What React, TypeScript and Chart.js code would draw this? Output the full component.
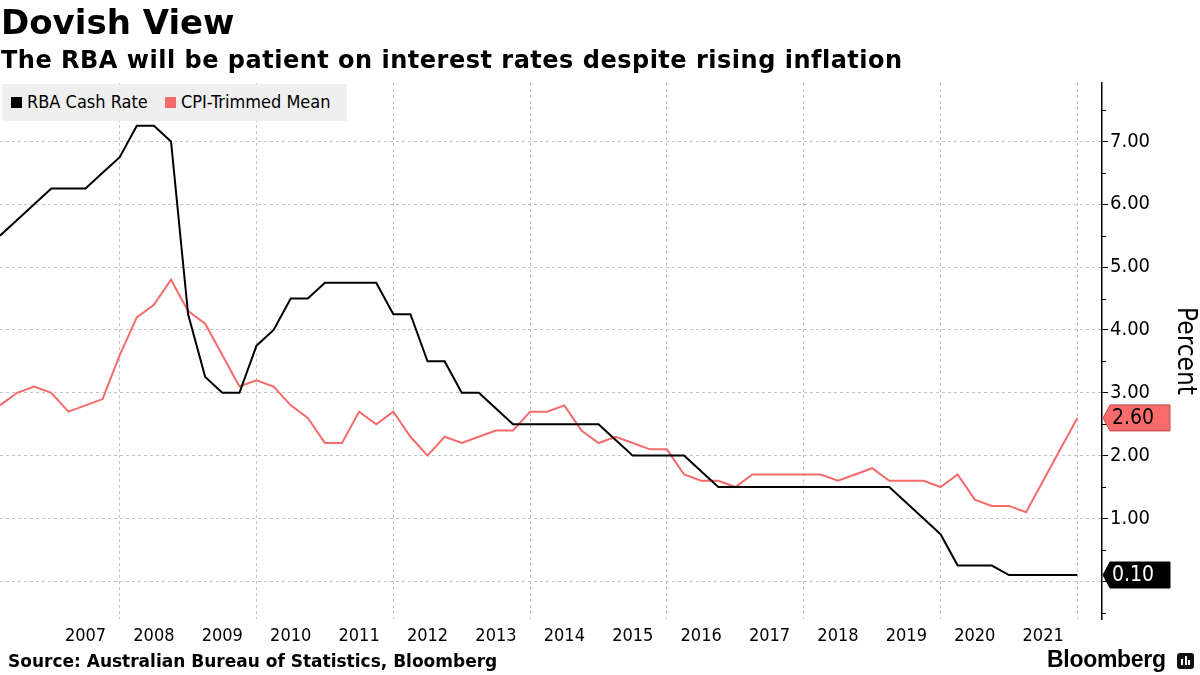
import React, { useEffect, useRef } from "react";
import { Chart, registerables } from "chart.js";

Chart.register(...registerables);

// ---- Data (quarter ends) ----
const quarters = [
  "2006-03", "2006-06", "2006-09", "2006-12",
  "2007-03", "2007-06", "2007-09", "2007-12",
  "2008-03", "2008-06", "2008-09", "2008-12",
  "2009-03", "2009-06", "2009-09", "2009-12",
  "2010-03", "2010-06", "2010-09", "2010-12",
  "2011-03", "2011-06", "2011-09", "2011-12",
  "2012-03", "2012-06", "2012-09", "2012-12",
  "2013-03", "2013-06", "2013-09", "2013-12",
  "2014-03", "2014-06", "2014-09", "2014-12",
  "2015-03", "2015-06", "2015-09", "2015-12",
  "2016-03", "2016-06", "2016-09", "2016-12",
  "2017-03", "2017-06", "2017-09", "2017-12",
  "2018-03", "2018-06", "2018-09", "2018-12",
  "2019-03", "2019-06", "2019-09", "2019-12",
  "2020-03", "2020-06", "2020-09", "2020-12",
  "2021-03", "2021-06", "2021-09", "2021-12",
];

const rbaCashRate = [
  5.5, 5.75, 6.0, 6.25,
  6.25, 6.25, 6.5, 6.75,
  7.25, 7.25, 7.0, 4.25,
  3.25, 3.0, 3.0, 3.75,
  4.0, 4.5, 4.5, 4.75,
  4.75, 4.75, 4.75, 4.25,
  4.25, 3.5, 3.5, 3.0,
  3.0, 2.75, 2.5, 2.5,
  2.5, 2.5, 2.5, 2.5,
  2.25, 2.0, 2.0, 2.0,
  2.0, 1.75, 1.5, 1.5,
  1.5, 1.5, 1.5, 1.5,
  1.5, 1.5, 1.5, 1.5,
  1.5, 1.25, 1.0, 0.75,
  0.25, 0.25, 0.25, 0.1,
  0.1, 0.1, 0.1, 0.1,
];

const cpiTrimmedMean = [
  2.8, 3.0, 3.1, 3.0,
  2.7, 2.8, 2.9, 3.6,
  4.2, 4.4, 4.8, 4.3,
  4.1, 3.6, 3.1, 3.2,
  3.1, 2.8, 2.6, 2.2,
  2.2, 2.7, 2.5, 2.7,
  2.3, 2.0, 2.3, 2.2,
  2.3, 2.4, 2.4, 2.7,
  2.7, 2.8, 2.4, 2.2,
  2.3, 2.2, 2.1, 2.1,
  1.7, 1.6, 1.6, 1.5,
  1.7, 1.7, 1.7, 1.7,
  1.7, 1.6, 1.7, 1.8,
  1.6, 1.6, 1.6, 1.5,
  1.7, 1.3, 1.2, 1.2,
  1.1, 1.6, 2.1, 2.6,
];

const yearLabels = [
  "2007", "2008", "2009", "2010", "2011", "2012", "2013", "2014",
  "2015", "2016", "2017", "2018", "2019", "2020", "2021",
];
const gridYears = [2008, 2010, 2012, 2014, 2016, 2018, 2020, 2022];
const yMajorTicks = [0, 1, 2, 3, 4, 5, 6, 7];
const yMinorTicks = [-0.5, 0.5, 1.5, 2.5, 3.5, 4.5, 5.5, 6.5, 7.5];

const seriesNames = ["RBA Cash Rate", "CPI-Trimmed Mean"];
const seriesColors = ["#000000", "#f46b6b"];
const boxFill = ["#000000", "#fa6b6b"];
const boxText = ["#ffffff", "#000000"];

const FONT = "'DejaVu Sans Condensed', 'Liberation Sans', 'DejaVu Sans', sans-serif";
const BOLD = "'DejaVu Sans', 'Liberation Sans', sans-serif";

const toYear = (q: string) => {
  const [y, m] = q.split("-").map(Number);
  return y + m / 12;
};

const endLabelPlugin = {
  id: "endLabels",
  afterDraw(chart: any) {
    const ctx = chart.ctx as CanvasRenderingContext2D;
    const ys = chart.scales.y;
    const ax = ys.left;
    ctx.save();
    // minor ticks
    ctx.strokeStyle = "#000";
    ctx.lineWidth = 1;
    yMinorTicks.forEach((v) => {
      const py = Math.round(ys.getPixelForValue(v)) + 0.5;
      ctx.beginPath();
      ctx.moveTo(ax, py);
      ctx.lineTo(ax + 4, py);
      ctx.stroke();
    });
    // last-value boxes
    chart.data.datasets.forEach((ds: any, i: number) => {
      const last = ds.data[ds.data.length - 1];
      const py = ys.getPixelForValue(last.y);
      const h = 26;
      const x0 = ax + 1;
      const x1 = ax + 8;
      const x2 = ax + 68;
      ctx.beginPath();
      ctx.moveTo(x0, py);
      ctx.lineTo(x1, py - h / 2);
      ctx.lineTo(x2, py - h / 2);
      ctx.lineTo(x2, py + h / 2);
      ctx.lineTo(x1, py + h / 2);
      ctx.closePath();
      ctx.fillStyle = boxFill[i];
      ctx.fill();
      ctx.strokeStyle = i === 1 ? "#c24a4a" : "#000";
      ctx.lineWidth = 1;
      ctx.stroke();
      ctx.fillStyle = boxText[i];
      ctx.font = `21px ${FONT}`;
      ctx.textBaseline = "middle";
      ctx.textAlign = "left";
      ctx.fillText(last.y.toFixed(2), ax + 10, py + 1);
    });
    ctx.restore();
  },
};

export default function App() {
  const ref = useRef<HTMLCanvasElement | null>(null);

  useEffect(() => {
    if (!ref.current) return;
    const xs = quarters.map(toYear);
    const chart = new Chart(ref.current, {
      type: "line",
      data: {
        datasets: [
          {
            label: seriesNames[0],
            data: xs.map((x, i) => ({ x, y: rbaCashRate[i] })),
            borderColor: seriesColors[0],
            borderWidth: 2,
            pointRadius: 0,
            tension: 0,
          },
          {
            label: seriesNames[1],
            data: xs.map((x, i) => ({ x, y: cpiTrimmedMean[i] })),
            borderColor: seriesColors[1],
            borderWidth: 2,
            pointRadius: 0,
            tension: 0,
          },
        ],
      },
      options: {
        responsive: false,
        animation: false,
        events: [],
        layout: { padding: { top: 83, left: 0, right: 0, bottom: 16 } },
        plugins: {
          legend: { display: false },
          tooltip: { enabled: false },
        },
        scales: {
          x: {
            type: "linear",
            min: 2006.25,
            max: 2022.36,
            afterBuildTicks: (scale: any) => {
              const t: { value: number }[] = [];
              yearLabels.forEach((y) => t.push({ value: Number(y) + 0.5 }));
              gridYears.forEach((y) => t.push({ value: y }));
              t.sort((a, b) => a.value - b.value);
              scale.ticks = t;
            },
            afterFit: (scale: any) => {
              scale.height = 40;
            },
            ticks: {
              autoSkip: false,
              maxRotation: 0,
              padding: 7,
              color: "#000",
              font: { family: FONT, size: 18 },
              callback: (v: any) => {
                const n = Number(v);
                return n % 1 !== 0 ? String(Math.floor(n)) : "";
              },
            },
            grid: {
              drawTicks: false,
              color: (c: any) =>
                c.tick && c.tick.value % 1 === 0 ? "#c4c4c4" : "rgba(0,0,0,0)",
              lineWidth: 1,
            },
            border: { display: false, dash: [3, 3] },
          },
          y: {
            type: "linear",
            position: "right",
            min: -0.6,
            max: 7.93,
            afterBuildTicks: (scale: any) => {
              scale.ticks = yMajorTicks.map((v) => ({ value: v }));
            },
            afterFit: (scale: any) => {
              scale.width = 98;
            },
            ticks: {
              padding: 2,
              color: "#000",
              font: { family: FONT, size: 20 },
              callback: (v: any) => Number(v).toFixed(2),
            },
            grid: {
              drawTicks: true,
              tickLength: 6,
              tickColor: "#000",
              tickBorderDash: [],
              color: "#c4c4c4",
              lineWidth: 1,
            },
            border: { display: true, color: "#000", width: 1.5, dash: [3, 3] },
            title: {
              display: true,
              text: "Percent",
              color: "#000",
              font: { family: FONT, size: 26 },
              padding: { top: 0, bottom: 0 },
            },
          },
        },
      },
      plugins: [endLabelPlugin],
    });
    return () => chart.destroy();
  }, []);

  const abs = (s: React.CSSProperties): React.CSSProperties => ({
    position: "absolute",
    whiteSpace: "nowrap",
    margin: 0,
    ...s,
  });

  return (
    <div
      style={{
        position: "absolute",
        left: 0,
        top: 0,
        width: 1200,
        height: 675,
        background: "#fff",
        overflow: "hidden",
      }}
    >
      <canvas ref={ref} width={1200} height={675} style={{ display: "block" }} />
      <div
        style={abs({
          left: 1,
          top: 2,
          fontFamily: BOLD,
          fontWeight: 700,
          fontSize: 34,
          lineHeight: "40px",
          color: "#000",
        })}
      >
        Dovish View
      </div>
      <div
        style={abs({
          left: 1,
          top: 45,
          fontFamily: BOLD,
          fontWeight: 700,
          fontSize: 24,
          letterSpacing: "0.5px",
          lineHeight: "30px",
          color: "#000",
        })}
      >
        The RBA will be patient on interest rates despite rising inflation
      </div>
      <div
        style={abs({
          left: 2,
          top: 84,
          width: 345,
          height: 37,
          background: "#efefef",
          fontFamily: FONT,
          fontSize: 18,
          color: "#000",
        })}
      >
        {seriesNames.map((n, i) => (
          <span
            key={n}
            style={{
              position: "absolute",
              left: i === 0 ? 9 : 163,
              top: 8,
              lineHeight: "20px",
              display: "flex",
              alignItems: "center",
            }}
          >
            <span
              style={{
                display: "inline-block",
                width: 11,
                height: 11,
                background: seriesColors[i],
                marginRight: 5,
              }}
            />
            {n}
          </span>
        ))}
      </div>
      <div
        style={abs({
          left: 8,
          top: 651,
          fontFamily: BOLD,
          fontWeight: 700,
          fontSize: 17,
          lineHeight: "20px",
          color: "#000",
        })}
      >
        Source: Australian Bureau of Statistics, Bloomberg
      </div>
      <div
        style={abs({
          left: 1047,
          top: 645,
          fontFamily: "'Liberation Sans', 'DejaVu Sans', sans-serif",
          fontWeight: 700,
          fontSize: 23,
          lineHeight: "28px",
          color: "#000",
          letterSpacing: "-0.3px",
        })}
      >
        Bloomberg
      </div>
      <div
        style={abs({
          left: 1177,
          top: 653,
          width: 17,
          height: 16,
          background: "#111",
          borderRadius: 3,
        })}
      >
        <div style={abs({ left: 4, top: 6, width: 2, height: 6, background: "#fff" })} />
        <div style={abs({ left: 7.5, top: 3, width: 2, height: 9, background: "#fff" })} />
        <div style={abs({ left: 11, top: 7, width: 2, height: 5, background: "#fff" })} />
      </div>
    </div>
  );
}
